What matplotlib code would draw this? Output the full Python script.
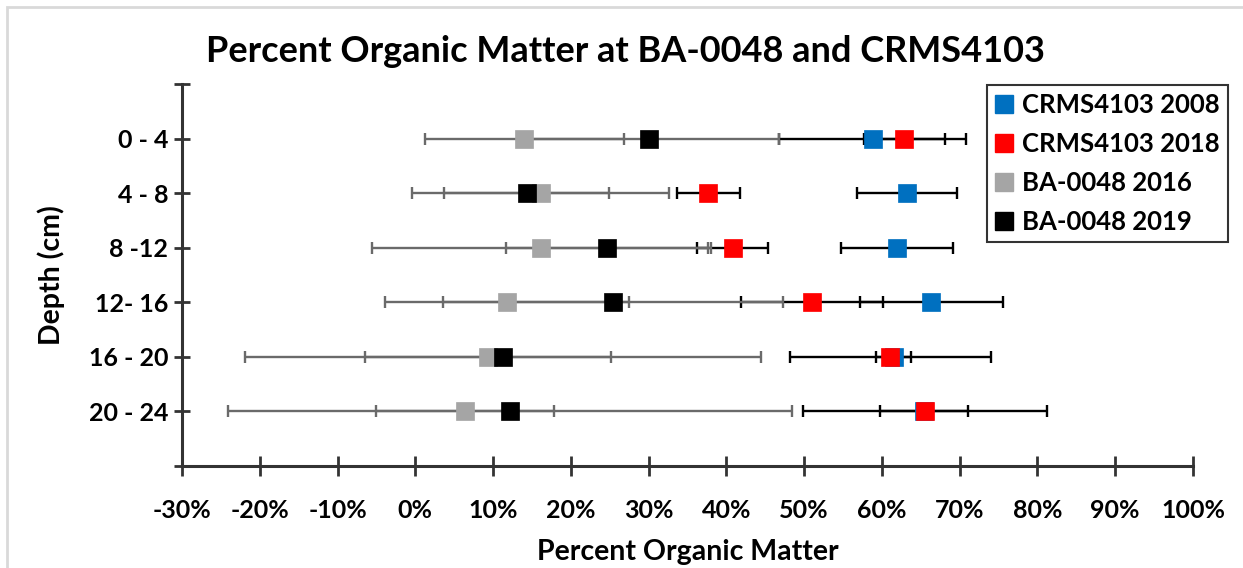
import matplotlib
matplotlib.use("Agg")
import matplotlib.pyplot as plt
from matplotlib.lines import Line2D
from matplotlib.patches import Rectangle
from matplotlib.ticker import FuncFormatter

# Depth intervals and percent organic matter (mean and error half-width)
depths = ["0 - 4", "4 - 8", "8 -12", "12- 16", "16 - 20", "20 - 24"]

crms2008 = [58.8, 63.2, 61.9, 66.35, 61.5, 65.4]
crms2008_err = [12.0, 6.4, 7.2, 9.2, 2.25, 5.7]

crms2018 = [62.9, 37.7, 40.8, 51.0, 61.1, 65.5]
crms2018_err = [5.2, 4.1, 4.6, 9.1, 12.9, 15.7]

ba2016 = [14.0, 16.1, 16.2, 11.8, 9.3, 6.4]
ba2016_err = [12.8, 16.5, 21.8, 15.7, 15.8, 11.4]

ba2019 = [30.0, 14.3, 24.6, 25.4, 11.3, 12.2]
ba2019_err = [16.8, 10.6, 13.0, 21.9, 33.2, 36.3]

x_ticks = list(range(-30, 101, 10))

FONT = ["Lato", "DejaVu Sans"]
plt.rcParams["font.family"] = FONT
plt.rcParams["font.weight"] = "bold"

series = [
    ("CRMS4103 2008", crms2008, crms2008_err, "#0070C0", "#000000"),
    ("CRMS4103 2018", crms2018, crms2018_err, "#FF0000", "#000000"),
    ("BA-0048 2016", ba2016, ba2016_err, "#A5A5A5", "#6A6A6A"),
    ("BA-0048 2019", ba2019, ba2019_err, "#000000", "#6A6A6A"),
]

W, H = 1243, 568
fig = plt.figure(figsize=(W / 100, H / 100), dpi=100)
ax = fig.add_axes([182 / W, 1 - 466 / H, (1193 - 182) / W, (466 - 84) / H])

ypos = list(range(1, len(depths) + 1))

# error bars first, markers on top in series order
for name, vals, errs, mcol, ecol in series:
    ax.errorbar(vals, ypos, xerr=errs, fmt="none", ecolor=ecol,
                elinewidth=1.7, capsize=4, capthick=1.7, zorder=2)
for i, (name, vals, errs, mcol, ecol) in enumerate(series):
    ax.plot(vals, ypos, linestyle="none", marker="s", markersize=13.5,
            markerfacecolor=mcol, markeredgecolor=mcol, markeredgewidth=0.5,
            zorder=3 + i)

ax.set_xlim(-30, 100)
ax.set_ylim(7, 0)
ax.set_xticks(x_ticks)
ax.xaxis.set_major_formatter(FuncFormatter(lambda v, p: f"{v:.0f}%"))
ax.set_yticks(range(0, 8))
ax.set_yticklabels([""] + depths + [""])

for side in ("top", "right"):
    ax.spines[side].set_visible(False)
for side in ("left", "bottom"):
    ax.spines[side].set_color("#333333")
    ax.spines[side].set_linewidth(2.2)

ax.tick_params(axis="x", direction="inout", length=14, width=2, color="#333333",
               labelsize=18, pad=17, labelcolor="black")
ax.tick_params(axis="y", direction="inout", length=12, width=2, color="#333333",
               labelsize=18, pad=4, labelcolor="black")
for lab in ax.get_xticklabels() + ax.get_yticklabels():
    lab.set_fontweight("bold")

ax.set_xlabel("Percent Organic Matter", fontsize=20.5, fontweight="bold", labelpad=12)
ax.set_ylabel("Depth (cm)", fontsize=20.5, fontweight="bold", labelpad=17)

fig.text(626 / W, 1 - 52 / H, "Percent Organic Matter at BA-0048 and CRMS4103",
         ha="center", va="center", fontsize=26, fontweight="bold")

handles = [Line2D([], [], linestyle="none", marker="s", markersize=13,
                  markerfacecolor=s[3], markeredgecolor=s[3]) for s in series]
leg = fig.legend(handles, [s[0] for s in series], loc="upper left",
                 bbox_to_anchor=(987 / W, 1 - 85 / H), borderaxespad=0,
                 frameon=True, fancybox=False, handlelength=0.7,
                 handletextpad=0.35, labelspacing=0.58, borderpad=0.32,
                 prop={"weight": "bold", "size": 18.5, "family": FONT})
leg.get_frame().set_edgecolor("black")
leg.get_frame().set_linewidth(1.5)

# light chart-area border
fig.patches.append(Rectangle((7 / W, -0.1), 1.2, 1 - 7 / H + 0.1,
                             transform=fig.transFigure, fill=False,
                             edgecolor="#D9D9D9", linewidth=2))

fig.savefig("out.png", dpi=100)
